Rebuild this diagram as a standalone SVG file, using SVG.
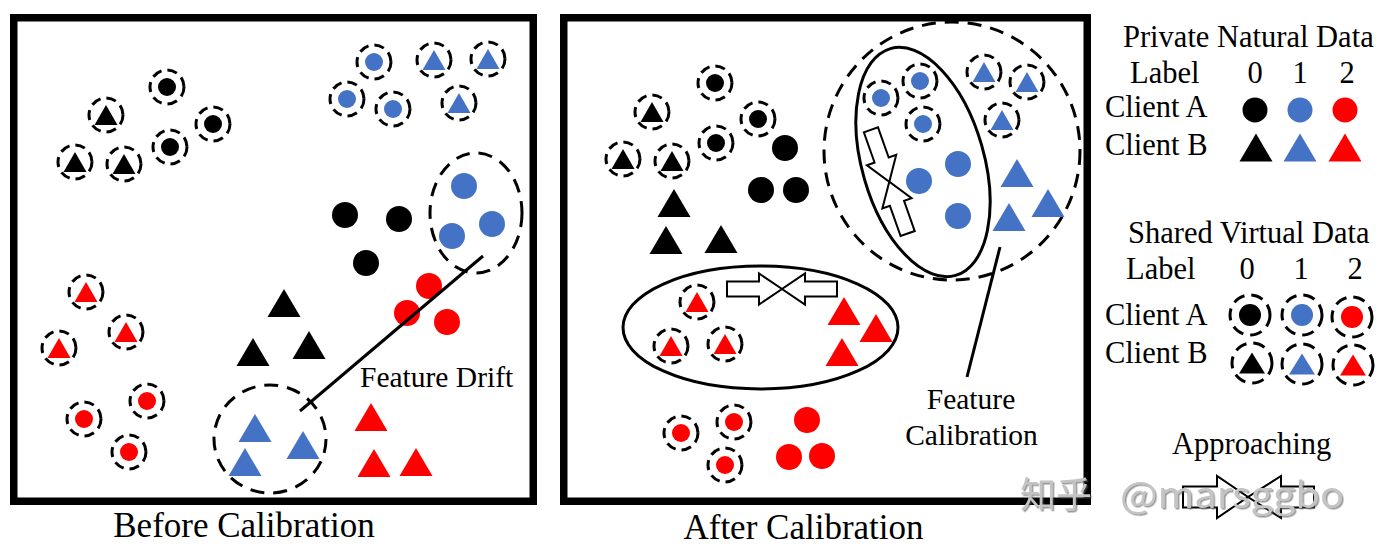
<svg xmlns="http://www.w3.org/2000/svg" xmlns:xlink="http://www.w3.org/1999/xlink" width="1383" height="554" viewBox="0 0 1383 554">
<style>
.k{fill:#000}.b{fill:#4472C4}.r{fill:#FF0000}
.ring{fill:none;stroke:#000;stroke-width:3;stroke-dasharray:10 6}
.ringL{fill:none;stroke:#000;stroke-width:3;stroke-dasharray:12 7}
.dash{fill:none;stroke:#000;stroke-width:3;stroke-dasharray:14 9}
.solid{fill:none;stroke:#000;stroke-width:3}
.frame{fill:none;stroke:#000;stroke-width:7.5}
.arrow{fill:#fff;stroke:#000;stroke-width:2}
.line{stroke:#000;stroke-width:3;fill:none}
text{font-family:"Liberation Serif","Times New Roman",serif;fill:#000}
.t35{font-size:35px}.t30{font-size:30.5px}.t29{font-size:29.5px}
.wm{font-family:"Noto Sans CJK SC","Noto Sans",sans-serif;font-size:36px;fill:#c4c4c4;filter:url(#shadow)}
</style>
<defs>
<filter id="shadow" x="-10%" y="-20%" width="120%" height="140%"><feDropShadow dx="1.5" dy="1.5" stdDeviation="0.6" flood-color="#555" flood-opacity="0.6"/></filter>
<path id="tri" d="M0,-14 L16.5,14 L-16.5,14Z"/>
<path id="triS" d="M0,-10 L11.5,10 L-11.5,10Z"/>
<path id="triL" d="M0,-10.5 L13,10.5 L-13,10.5Z"/>
<circle id="ring" r="17" class="ring"/>
<circle id="ringL" r="20" class="ringL"/>
<g id="appr">
<polygon class="arrow" points="-55,-7.5 -23,-7.5 -23,-15.5 0,0 -23,15.5 -23,7.5 -55,7.5"/>
<polygon class="arrow" points="55,-7.5 23,-7.5 23,-15.5 0,0 23,15.5 23,7.5 55,7.5"/>
</g>
</defs>
<rect width="1383" height="554" fill="#fff"/>

<!-- LEFT PANEL -->
<g id="panel-before">
<rect class="frame" x="13.75" y="17.75" width="519.5" height="483.5"/>
<g id="cluster-blue-drift"><ellipse class="dash" cx="476" cy="213" rx="46" ry="60"/></g>
<g id="cluster-bluetri-drift"><ellipse class="dash" cx="270" cy="439" rx="56" ry="54"/></g>
<!-- shared black -->
<g id="L-sk-c1" transform="translate(167,87)"><use href="#ring"/><circle r="9" class="k"/></g>
<g id="L-sk-c2" transform="translate(213,124)"><use href="#ring"/><circle r="9" class="k"/></g>
<g id="L-sk-c3" transform="translate(170,147)"><use href="#ring"/><circle r="9" class="k"/></g>
<g id="L-sk-t1" transform="translate(106,115)"><use href="#ring"/><use href="#triS" class="k"/></g>
<g id="L-sk-t2" transform="translate(75,162)"><use href="#ring"/><use href="#triS" class="k"/></g>
<g id="L-sk-t3" transform="translate(124,164)"><use href="#ring"/><use href="#triS" class="k"/></g>
<!-- shared blue -->
<g id="L-sb-c1" transform="translate(374,62)"><use href="#ring"/><circle r="9" class="b"/></g>
<g id="L-sb-c2" transform="translate(347,99)"><use href="#ring"/><circle r="9" class="b"/></g>
<g id="L-sb-c3" transform="translate(393,109)"><use href="#ring"/><circle r="9" class="b"/></g>
<g id="L-sb-t1" transform="translate(434,60)"><use href="#ring"/><use href="#triS" class="b"/></g>
<g id="L-sb-t2" transform="translate(488,59)"><use href="#ring"/><use href="#triS" class="b"/></g>
<g id="L-sb-t3" transform="translate(459,103)"><use href="#ring"/><use href="#triS" class="b"/></g>
<!-- shared red -->
<g id="L-sr-t1" transform="translate(86,292)"><use href="#ring"/><use href="#triS" class="r"/></g>
<g id="L-sr-t2" transform="translate(126,332)"><use href="#ring"/><use href="#triS" class="r"/></g>
<g id="L-sr-t3" transform="translate(59,348)"><use href="#ring"/><use href="#triS" class="r"/></g>
<g id="L-sr-c1" transform="translate(147,401)"><use href="#ring"/><circle r="9" class="r"/></g>
<g id="L-sr-c2" transform="translate(84,419)"><use href="#ring"/><circle r="9" class="r"/></g>
<g id="L-sr-c3" transform="translate(129,452)"><use href="#ring"/><circle r="9" class="r"/></g>
<!-- private -->
<g id="L-pk-c1"><circle cx="345" cy="215" r="13" class="k"/></g>
<g id="L-pk-c2"><circle cx="399" cy="219" r="13" class="k"/></g>
<g id="L-pk-c3"><circle cx="366" cy="263" r="13" class="k"/></g>
<g id="L-pb-c1"><circle cx="464" cy="186" r="13" class="b"/></g>
<g id="L-pb-c2"><circle cx="492" cy="224" r="13" class="b"/></g>
<g id="L-pb-c3"><circle cx="452" cy="236" r="13" class="b"/></g>
<g id="L-pr-c1"><circle cx="429" cy="286" r="13" class="r"/></g>
<g id="L-pr-c2"><circle cx="407" cy="313" r="13" class="r"/></g>
<g id="L-pr-c3"><circle cx="447" cy="322" r="13" class="r"/></g>
<g id="L-pk-t1" transform="translate(284,303)"><use href="#tri" class="k"/></g>
<g id="L-pk-t2" transform="translate(253,352)"><use href="#tri" class="k"/></g>
<g id="L-pk-t3" transform="translate(309,345)"><use href="#tri" class="k"/></g>
<g id="L-pb-t1" transform="translate(255,428)"><use href="#tri" class="b"/></g>
<g id="L-pb-t2" transform="translate(303,445)"><use href="#tri" class="b"/></g>
<g id="L-pb-t3" transform="translate(245,462)"><use href="#tri" class="b"/></g>
<g id="L-pr-t1" transform="translate(371,417)"><use href="#tri" class="r"/></g>
<g id="L-pr-t2" transform="translate(374,463)"><use href="#tri" class="r"/></g>
<g id="L-pr-t3" transform="translate(416,462)"><use href="#tri" class="r"/></g>
<g id="label-drift"><text class="t29" x="360" y="387">Feature Drift</text></g>
</g>
<text id="title-before" class="t35" x="244" y="537" text-anchor="middle">Before Calibration</text>

<!-- RIGHT PANEL -->
<g id="panel-after">
<rect class="frame" x="563.75" y="17.75" width="523.5" height="483.5"/>
<g id="cluster-blue-big"><ellipse class="dash" cx="952" cy="151" rx="128" ry="129"/></g>
<g id="cluster-blue-circ"><ellipse class="solid" cx="0" cy="0" rx="61" ry="118" transform="translate(923,162) rotate(-16)"/></g>
<g id="cluster-red"><ellipse class="solid" cx="760.5" cy="327.5" rx="137.5" ry="61.5"/></g>
<!-- shared black -->
<g id="R-sk-c1" transform="translate(715,83)"><use href="#ring"/><circle r="9" class="k"/></g>
<g id="R-sk-c2" transform="translate(758,119)"><use href="#ring"/><circle r="9" class="k"/></g>
<g id="R-sk-c3" transform="translate(716,143)"><use href="#ring"/><circle r="9" class="k"/></g>
<g id="R-sk-t1" transform="translate(652,112)"><use href="#ring"/><use href="#triS" class="k"/></g>
<g id="R-sk-t2" transform="translate(623,159)"><use href="#ring"/><use href="#triS" class="k"/></g>
<g id="R-sk-t3" transform="translate(672,161)"><use href="#ring"/><use href="#triS" class="k"/></g>
<!-- private black -->
<g id="R-pk-c1"><circle cx="785" cy="148" r="13" class="k"/></g>
<g id="R-pk-c2"><circle cx="761" cy="190" r="13" class="k"/></g>
<g id="R-pk-c3"><circle cx="796" cy="190" r="13" class="k"/></g>
<g id="R-pk-t1" transform="translate(674,203)"><use href="#tri" class="k"/></g>
<g id="R-pk-t2" transform="translate(666,240)"><use href="#tri" class="k"/></g>
<g id="R-pk-t3" transform="translate(721,239)"><use href="#tri" class="k"/></g>
<!-- shared blue -->
<g id="R-sb-c1" transform="translate(881,98)"><use href="#ring"/><circle r="9" class="b"/></g>
<g id="R-sb-c2" transform="translate(920,81)"><use href="#ring"/><circle r="9" class="b"/></g>
<g id="R-sb-c3" transform="translate(923,124)"><use href="#ring"/><circle r="9" class="b"/></g>
<g id="R-sb-t1" transform="translate(984,72)"><use href="#ring"/><use href="#triS" class="b"/></g>
<g id="R-sb-t2" transform="translate(1027,82)"><use href="#ring"/><use href="#triS" class="b"/></g>
<g id="R-sb-t3" transform="translate(1002,120)"><use href="#ring"/><use href="#triS" class="b"/></g>
<!-- private blue -->
<g id="R-pb-c1"><circle cx="958" cy="164" r="13" class="b"/></g>
<g id="R-pb-c2"><circle cx="919" cy="181" r="13" class="b"/></g>
<g id="R-pb-c3"><circle cx="958" cy="216" r="13" class="b"/></g>
<g id="R-pb-t1" transform="translate(1017,173)"><use href="#tri" class="b"/></g>
<g id="R-pb-t2" transform="translate(1048,203)"><use href="#tri" class="b"/></g>
<g id="R-pb-t3" transform="translate(1009,217)"><use href="#tri" class="b"/></g>
<!-- red -->
<g id="R-sr-t1" transform="translate(697,302)"><use href="#ring"/><use href="#triS" class="r"/></g>
<g id="R-sr-t2" transform="translate(671,346)"><use href="#ring"/><use href="#triS" class="r"/></g>
<g id="R-sr-t3" transform="translate(725,344)"><use href="#ring"/><use href="#triS" class="r"/></g>
<g id="R-pr-t1" transform="translate(844,311)"><use href="#tri" class="r"/></g>
<g id="R-pr-t2" transform="translate(876,328)"><use href="#tri" class="r"/></g>
<g id="R-pr-t3" transform="translate(842,352)"><use href="#tri" class="r"/></g>
<g id="R-sr-c1" transform="translate(681,433)"><use href="#ring"/><circle r="9" class="r"/></g>
<g id="R-sr-c2" transform="translate(734,422)"><use href="#ring"/><circle r="9" class="r"/></g>
<g id="R-sr-c3" transform="translate(725,465)"><use href="#ring"/><circle r="9" class="r"/></g>
<g id="R-pr-c1"><circle cx="807" cy="420" r="13" class="r"/></g>
<g id="R-pr-c2"><circle cx="789" cy="457" r="13" class="r"/></g>
<g id="R-pr-c3"><circle cx="822" cy="456" r="13" class="r"/></g>
<g id="approach-blue" transform="translate(889.3,181.7) rotate(70.5)"><use href="#appr"/></g>
<g id="approach-red" transform="translate(782,289)"><use href="#appr"/></g>
<g id="label-calib"><text class="t29" x="971" y="409" text-anchor="middle">Feature</text><text class="t29" x="971.5" y="445" text-anchor="middle">Calibration</text></g>
</g>
<text id="title-after" class="t35" x="803.5" y="539" text-anchor="middle">After Calibration</text>

<g id="connectors">
<line class="line" x1="300" y1="411" x2="483" y2="256"/>
<line class="line" x1="1000" y1="247" x2="967" y2="377"/>
</g>

<!-- LEGEND -->
<g id="legend-private">
<text class="t30" x="1123" y="47">Private Natural Data</text>
<text class="t30" x="1130" y="83">Label</text>
<text class="t30" x="1255" y="83" text-anchor="middle">0</text>
<text class="t30" x="1300" y="83" text-anchor="middle">1</text>
<text class="t30" x="1347" y="83" text-anchor="middle">2</text>
<text class="t30" x="1105" y="117">Client A</text>
<text class="t30" x="1105" y="155">Client B</text>
<circle cx="1255" cy="110" r="12.5" class="k"/>
<circle cx="1300" cy="110" r="12.5" class="b"/>
<circle cx="1345" cy="110" r="12.5" class="r"/>
<use href="#tri" class="k" transform="translate(1256,147.5)"/>
<use href="#tri" class="b" transform="translate(1300,147.5)"/>
<use href="#tri" class="r" transform="translate(1345,147.5)"/>
</g>
<g id="legend-shared">
<text class="t30" x="1128" y="243">Shared Virtual Data</text>
<text class="t30" x="1126" y="279">Label</text>
<text class="t30" x="1247" y="279" text-anchor="middle">0</text>
<text class="t30" x="1301" y="279" text-anchor="middle">1</text>
<text class="t30" x="1355" y="279" text-anchor="middle">2</text>
<text class="t30" x="1105" y="325">Client A</text>
<text class="t30" x="1105" y="363">Client B</text>
<g transform="translate(1250,315)"><use href="#ringL"/><circle r="11" class="k"/></g>
<g transform="translate(1302,315)"><use href="#ringL"/><circle r="11" class="b"/></g>
<g transform="translate(1352,317)"><use href="#ringL"/><circle r="11" class="r"/></g>
<g transform="translate(1252,363)"><use href="#ringL"/><use href="#triL" class="k"/></g>
<g transform="translate(1302,364)"><use href="#ringL"/><use href="#triL" class="b"/></g>
<g transform="translate(1353,365)"><use href="#ringL"/><use href="#triL" class="r"/></g>
</g>
<g id="legend-approach">
<text class="t30" x="1172" y="454">Approaching</text>
<g transform="translate(1248,497)">
<polygon class="arrow" points="-65,-10.5 -31,-10.5 -31,-21 0,0 -31,21 -31,10.5 -65,10.5"/>
<polygon class="arrow" points="66,-10.5 33,-10.5 33,-21 0,0 33,21 33,10.5 66,10.5"/>
</g>
</g>

<text class="wm" x="1020" y="508">知乎<tspan x="1120" textLength="224" lengthAdjust="spacingAndGlyphs">@marsggbo</tspan></text>
</svg>
